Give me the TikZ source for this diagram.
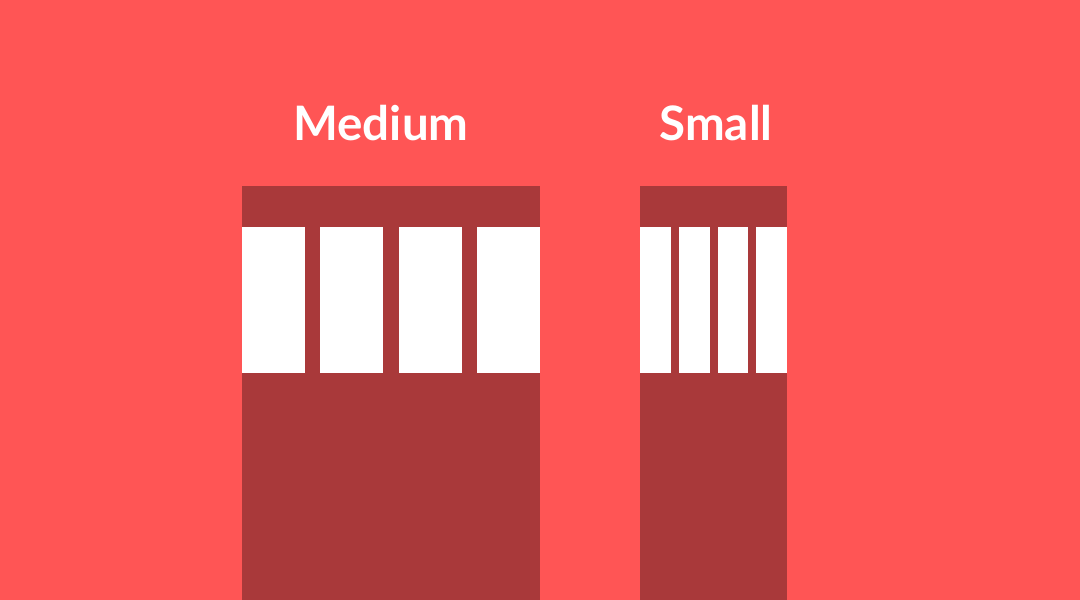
\documentclass[tikz,border=0pt]{standalone}
\usepackage{fontspec}
\setmainfont{Lato}
\definecolor{bgred}{HTML}{FF5555}
\definecolor{darkred}{HTML}{A9393A}
\begin{document}
\begin{tikzpicture}[x=1pt,y=-1pt,
  panel/.style={fill=darkred,draw=none},
  bar/.style={fill=white,draw=none},
  title/.style={text=white,font=\bfseries\fontsize{47.5}{56}\selectfont,inner sep=0pt,anchor=base}]
\fill[bgred] (0,0) rectangle (1080,600);
\useasboundingbox (0,0) rectangle (1080,600);
% Medium
\fill[panel] (242,186) rectangle (540,600);
\foreach \a/\b in {242/304.5,320/383,399/461.5,477/540}
  \fill[bar] (\a,227) rectangle (\b,373);
% Small
\fill[panel] (640,186) rectangle (786.5,600);
\foreach \a/\b in {640/670.5,679/709.5,717.5/747.5,756/786.5}
  \fill[bar] (\a,227) rectangle (\b,373);
\node[title] (med) at (381,140) {Medium};
\node[title] (sm) at (716,140) {Small};
\end{tikzpicture}
\end{document}
